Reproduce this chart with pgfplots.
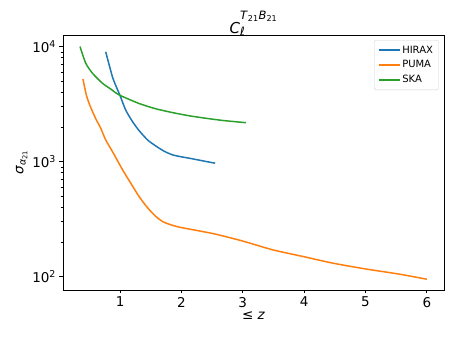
\documentclass[border=0pt]{standalone}
\usepackage{fontspec}
\setmainfont{DejaVu Sans}
\usepackage{pgfplots}
\pgfplotsset{compat=1.18}
\definecolor{mplblue}{HTML}{1F77B4}
\definecolor{mplorange}{HTML}{FF7F0E}
\definecolor{mplgreen}{HTML}{2CA02C}

\begin{document}
\begin{tikzpicture}[x=1pt,y=1pt]
\begin{axis}[
  scale only axis,
  width=381pt, height=255pt,
  ymode=log,
  xmin=0.07, xmax=6.28,
  ymin=76.6, ymax=12600,
  xtick={1,2,3,4,5,6},
  ytick={100,1000,10000},
  yticklabels={10\textsuperscript{2},10\textsuperscript{3},10\textsuperscript{4}},
  /pgf/number format/assume math mode=true,
  tick label style={font=\fontsize{13.5}{15}\selectfont},
  xtick pos=left, ytick pos=left,
  tick align=outside,
  major tick length=3.5pt, minor tick length=2pt,
  axis line style={line width=0.8pt},
  every tick/.style={black, line width=0.8pt},
  minor tick style={line width=0.6pt},
  xlabel={≤ \textit{z}},
  ylabel={\textit{σ}\textsubscript{\textit{α}\textsubscript{21}}},
  label style={font=\fontsize{13.5}{15}\selectfont},
  xlabel style={yshift=2pt},
  ylabel style={yshift=-2pt},
  title={\textit{C}\rlap{\raisebox{-0.15em}{\fontsize{11.5}{12}\selectfont\textit{ℓ}}}\raisebox{0.9em}{\fontsize{11.5}{12}\selectfont\textit{T}\textsubscript{21}\textit{B}\textsubscript{21}}},
  title style={font=\fontsize{15}{17}\selectfont, yshift=-10pt},
  legend style={at={(0.986,0.98)}, anchor=north east, font=\fontsize{10}{12}\selectfont,
    draw=gray!35, rounded corners=2pt, row sep=2pt, inner sep=3.5pt},
  legend cell align=left,
  legend image code/.code={\draw[#1, line width=1.5pt] (0pt,0pt) -- (21pt,0pt);},
]
\addplot[mplblue, line width=1.5pt, no markers, smooth, tension=0.4] coordinates {
(0.766,9000)(0.874,5500)(0.94,4450)(1.0,3750)(1.09,2820)(1.2,2240)(1.31,1860)
(1.45,1540)(1.58,1370)(1.72,1230)(1.855,1145)(2.0,1100)(2.13,1070)(2.35,1015)(2.55,968)};
\addlegendentry{HIRAX}
\addplot[mplorange, line width=1.5pt, no markers, smooth, tension=0.4] coordinates {
(0.395,5210)(0.45,3800)(0.505,3110)(0.6,2380)(0.685,1950)(0.766,1545)(0.9,1160)
(1.04,850)(1.17,655)(1.31,497)(1.45,396)(1.58,335)(1.7,300)(1.85,280)(2.0,267)
(2.29,250)(2.56,234)(3.0,204)(3.49,171)(4.0,149)(4.47,131)(4.99,117)(5.56,105)(6.0,95)};
\addlegendentry{PUMA}
\addplot[mplgreen, line width=1.5pt, no markers, smooth, tension=0.4] coordinates {
(0.347,10000)(0.44,7180)(0.548,5880)(0.71,4810)(0.85,4265)(0.984,3800)(1.31,3200)
(1.58,2880)(1.855,2667)(2.13,2500)(2.40,2380)(2.7,2270)(3.05,2180)};
\addlegendentry{SKA}
\end{axis}
\useasboundingbox ([shift={(-63pt,-51pt)}]current axis.south west) rectangle ([shift={(11pt,35pt)}]current axis.north east);
\end{tikzpicture}
\end{document}
